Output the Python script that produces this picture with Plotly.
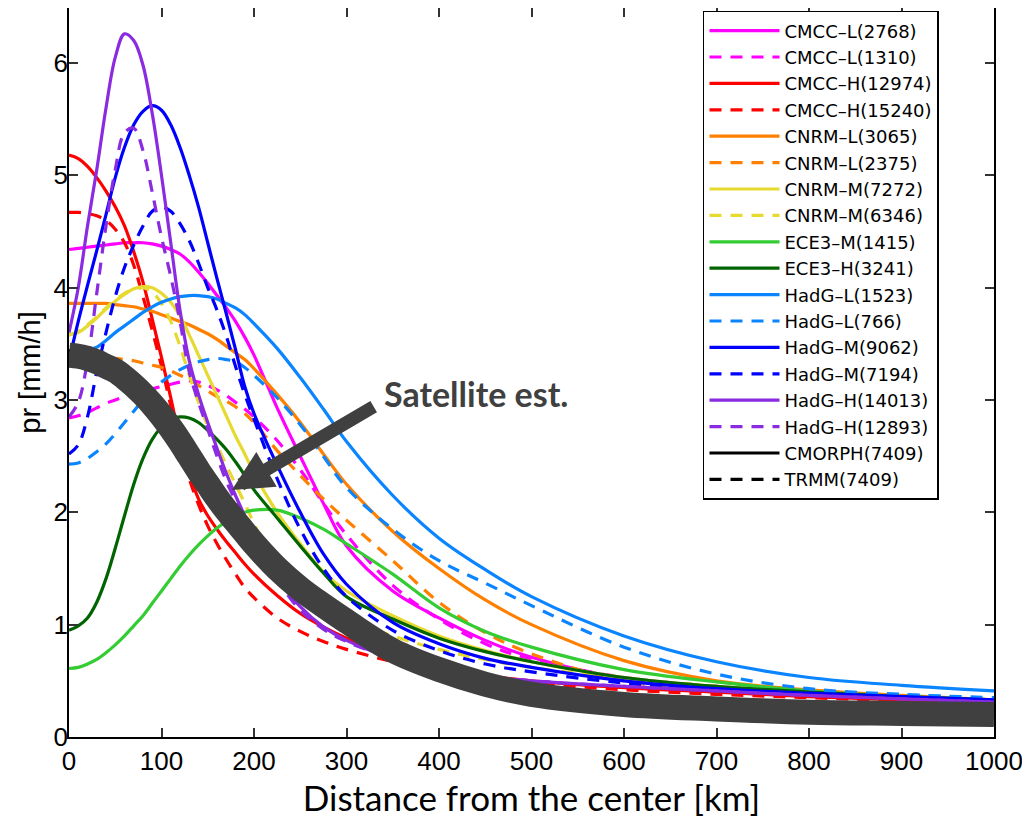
import plotly.graph_objects as go

# Distance from the storm centre [km]
DIST = [0, 10, 20, 30, 40, 50, 60, 70, 80, 90, 100, 110, 120, 130, 140, 150, 160, 170, 180, 190, 200,
        225, 250, 275, 300, 350, 400, 450, 500, 600, 700, 800, 900, 1000]

# Precipitation profiles [mm/h]
CMCC_L_2768 = [4.34, 4.35, 4.36, 4.37, 4.38, 4.39, 4.40, 4.40, 4.40, 4.39, 4.37, 4.34, 4.30, 4.23, 4.14,
               4.04, 3.93, 3.82, 3.70, 3.56, 3.40, 2.93, 2.50, 2.08, 1.70, 1.30, 1.06, 0.86, 0.71,
               0.52, 0.44, 0.39, 0.35, 0.32]
CMCC_L_1310 = [2.84, 2.86, 2.89, 2.93, 2.97, 3.00, 3.03, 3.06, 3.08, 3.10, 3.12, 3.14, 3.16, 3.17, 3.16,
               3.13, 3.09, 3.04, 2.98, 2.92, 2.85, 2.64, 2.38, 2.08, 1.80, 1.35, 1.05, 0.83, 0.69,
               0.53, 0.45, 0.40, 0.36, 0.33]
CMCC_H_12974 = [5.18, 5.15, 5.08, 4.98, 4.86, 4.72, 4.55, 4.32, 4.05, 3.72, 3.38, 3.02, 2.65, 2.35, 2.12,
                1.97, 1.85, 1.74, 1.64, 1.54, 1.45, 1.26, 1.10, 0.98, 0.88, 0.72, 0.62, 0.55, 0.50,
                0.44, 0.40, 0.36, 0.33, 0.30]
CMCC_H_15240 = [4.67, 4.67, 4.66, 4.64, 4.60, 4.52, 4.40, 4.20, 3.92, 3.62, 3.30, 2.95, 2.60, 2.30, 2.07,
                1.88, 1.72, 1.58, 1.45, 1.33, 1.24, 1.06, 0.94, 0.85, 0.78, 0.67, 0.58, 0.52, 0.48,
                0.42, 0.38, 0.35, 0.32, 0.30]
CNRM_L_3065 = [3.86, 3.86, 3.86, 3.86, 3.86, 3.85, 3.84, 3.83, 3.81, 3.79, 3.76, 3.73, 3.70, 3.67, 3.63,
               3.59, 3.54, 3.48, 3.42, 3.36, 3.28, 3.05, 2.80, 2.52, 2.25, 1.83, 1.50, 1.22, 1.00,
               0.68, 0.50, 0.42, 0.37, 0.33]
CNRM_L_2375 = [3.40, 3.39, 3.38, 3.38, 3.37, 3.37, 3.36, 3.35, 3.33, 3.31, 3.29, 3.26, 3.22, 3.18, 3.13,
               3.08, 3.03, 2.99, 2.94, 2.88, 2.80, 2.55, 2.33, 2.12, 1.93, 1.57, 1.20, 0.93, 0.74,
               0.50, 0.42, 0.38, 0.35, 0.32]
CNRM_M_7272 = [3.58, 3.60, 3.66, 3.73, 3.81, 3.88, 3.94, 3.99, 4.01, 4.00, 3.95, 3.87, 3.75, 3.58, 3.40,
               3.22, 3.04, 2.86, 2.68, 2.52, 2.35, 2.00, 1.72, 1.47, 1.30, 1.08, 0.90, 0.77, 0.67,
               0.53, 0.45, 0.40, 0.36, 0.33]
CNRM_M_6346 = [3.58, 3.61, 3.67, 3.74, 3.82, 3.89, 3.95, 3.99, 4.00, 3.96, 3.86, 3.70, 3.48, 3.22, 2.98,
               2.77, 2.60, 2.42, 2.25, 2.08, 1.90, 1.48, 1.27, 1.14, 1.05, 0.90, 0.78, 0.69, 0.62,
               0.52, 0.45, 0.40, 0.36, 0.33]
ECE3_M_1415 = [0.61, 0.62, 0.65, 0.69, 0.75, 0.82, 0.90, 0.99, 1.08, 1.19, 1.30, 1.41, 1.52, 1.62, 1.71,
               1.79, 1.86, 1.92, 1.96, 2.00, 2.02, 2.02, 1.95, 1.85, 1.72, 1.45, 1.15, 0.94, 0.80,
               0.60, 0.49, 0.41, 0.36, 0.33]
ECE3_H_3241 = [0.95, 0.99, 1.06, 1.20, 1.41, 1.68, 1.97, 2.25, 2.48, 2.65, 2.76, 2.83, 2.85, 2.84, 2.80,
               2.73, 2.65, 2.56, 2.45, 2.33, 2.20, 1.95, 1.70, 1.46, 1.25, 1.05, 0.88, 0.76, 0.67,
               0.53, 0.45, 0.40, 0.36, 0.33]
HADG_L_1523 = [3.43, 3.44, 3.45, 3.47, 3.53, 3.60, 3.66, 3.72, 3.78, 3.83, 3.87, 3.90, 3.92, 3.93, 3.93,
               3.92, 3.90, 3.86, 3.82, 3.76, 3.68, 3.46, 3.20, 2.92, 2.63, 2.15, 1.77, 1.49, 1.25,
               0.90, 0.67, 0.53, 0.46, 0.41]
HADG_L_766 = [2.43, 2.44, 2.48, 2.54, 2.61, 2.70, 2.80, 2.90, 3.00, 3.08, 3.16, 3.22, 3.27, 3.31, 3.34,
              3.36, 3.37, 3.36, 3.34, 3.29, 3.22, 3.02, 2.78, 2.50, 2.22, 1.85, 1.57, 1.37, 1.17,
              0.80, 0.56, 0.43, 0.38, 0.35]
HADG_M_9062 = [3.35, 3.70, 4.02, 4.33, 4.65, 4.98, 5.25, 5.45, 5.57, 5.62, 5.58, 5.45, 5.25, 5.00, 4.72,
               4.40, 4.08, 3.77, 3.45, 3.12, 2.88, 2.42, 2.00, 1.63, 1.36, 1.02, 0.83, 0.70, 0.62,
               0.50, 0.43, 0.39, 0.36, 0.33]
HADG_M_7194 = [2.52, 2.60, 2.85, 3.25, 3.60, 3.92, 4.18, 4.38, 4.55, 4.68, 4.72, 4.68, 4.57, 4.42, 4.22,
               4.00, 3.80, 3.57, 3.30, 3.05, 2.83, 2.30, 1.85, 1.50, 1.25, 0.95, 0.77, 0.65, 0.58,
               0.48, 0.42, 0.38, 0.35, 0.32]
HADG_H_14013 = [3.60, 4.00, 4.55, 5.05, 5.60, 6.05, 6.26, 6.20, 5.98, 5.55, 5.00, 4.40, 3.80, 3.35, 3.05,
                2.80, 2.57, 2.35, 2.15, 1.97, 1.80, 1.42, 1.16, 0.98, 0.86, 0.70, 0.60, 0.54, 0.50,
                0.45, 0.41, 0.37, 0.34, 0.31]
HADG_H_12893 = [2.85, 2.98, 3.35, 3.95, 4.55, 5.05, 5.38, 5.42, 5.22, 4.85, 4.45, 4.10, 3.70, 3.25, 2.98,
                2.74, 2.50, 2.28, 2.10, 1.92, 1.75, 1.40, 1.13, 0.96, 0.85, 0.70, 0.60, 0.54, 0.50,
                0.45, 0.41, 0.37, 0.34, 0.31]
CMORPH_7409 = [3.44, 3.43, 3.41, 3.38, 3.34, 3.30, 3.24, 3.17, 3.09, 3.00, 2.90, 2.79, 2.67, 2.54, 2.41,
               2.29, 2.17, 2.06, 1.96, 1.86, 1.76, 1.53, 1.35, 1.20, 1.06, 0.79, 0.62, 0.49, 0.40,
               0.31, 0.27, 0.24, 0.23, 0.22]
TRMM_7409 = [3.36, 3.35, 3.33, 3.30, 3.26, 3.22, 3.16, 3.09, 3.01, 2.92, 2.82, 2.71, 2.59, 2.46, 2.33,
             2.21, 2.09, 1.98, 1.88, 1.78, 1.68, 1.47, 1.29, 1.14, 1.00, 0.75, 0.58, 0.45, 0.36,
             0.27, 0.23, 0.20, 0.19, 0.18]
SATELLITE_EST = [3.40, 3.39, 3.37, 3.34, 3.30, 3.26, 3.20, 3.13, 3.05, 2.96, 2.86, 2.75, 2.63, 2.50, 2.37,
                 2.25, 2.13, 2.02, 1.92, 1.82, 1.72, 1.50, 1.32, 1.17, 1.03, 0.77, 0.60, 0.47, 0.38,
                 0.29, 0.25, 0.22, 0.21, 0.20]

SERIES = [
    ("CMCC–L(2768)", CMCC_L_2768, "#FF00FF", "solid"),
    ("CMCC–L(1310)", CMCC_L_1310, "#FF00FF", "dash"),
    ("CMCC–H(12974)", CMCC_H_12974, "#FF0000", "solid"),
    ("CMCC–H(15240)", CMCC_H_15240, "#FF0000", "dash"),
    ("CNRM–L(3065)", CNRM_L_3065, "#FF8000", "solid"),
    ("CNRM–L(2375)", CNRM_L_2375, "#FF8000", "dash"),
    ("CNRM–M(7272)", CNRM_M_7272, "#E6DA30", "solid"),
    ("CNRM–M(6346)", CNRM_M_6346, "#E6DA30", "dash"),
    ("ECE3–M(1415)", ECE3_M_1415, "#33CC33", "solid"),
    ("ECE3–H(3241)", ECE3_H_3241, "#006400", "solid"),
    ("HadG–L(1523)", HADG_L_1523, "#0A85FF", "solid"),
    ("HadG–L(766)", HADG_L_766, "#0A85FF", "dash"),
    ("HadG–M(9062)", HADG_M_9062, "#0000FF", "solid"),
    ("HadG–M(7194)", HADG_M_7194, "#0000FF", "dash"),
    ("HadG–H(14013)", HADG_H_14013, "#8A2BE2", "solid"),
    ("HadG–H(12893)", HADG_H_12893, "#8A2BE2", "dash"),
    ("CMORPH(7409)", CMORPH_7409, "#000000", "solid"),
    ("TRMM(7409)", TRMM_7409, "#000000", "dash"),
]

fig = go.Figure()
for name, vals, color, style in SERIES:
    fig.add_trace(go.Scatter(
        x=DIST, y=vals, name=name, mode="lines",
        line=dict(color=color, width=3.2, shape="spline", smoothing=1.0,
                  dash="solid" if style == "solid" else "12px,9px"),
    ))

# thick "satellite estimate" band drawn on top of everything
fig.add_trace(go.Scatter(
    x=DIST, y=SATELLITE_EST, mode="lines", showlegend=False, hoverinfo="skip",
    line=dict(color="#404040", width=25, shape="spline", smoothing=1.0),
))

fig.add_annotation(
    x=176, y=2.2, xref="x", yref="y", ax=331, ay=2.95, axref="x", ayref="y",
    text="", showarrow=True, arrowhead=2, arrowsize=0.62, arrowwidth=13,
    arrowcolor="#404040",
)
fig.add_annotation(
    x=338, y=3.06, xref="x", yref="y", text="<b>Satellite est.</b>", showarrow=False,
    xanchor="left", yanchor="middle",
    font=dict(family="Lato", size=34, color="#404040"),
)

axis_common = dict(
    showline=True, linecolor="black", linewidth=1.5, mirror="ticks",
    ticks="inside", ticklen=9, tickwidth=1.5, tickcolor="#333333",
    showgrid=False, zeroline=False, automargin=False,
    tickfont=dict(family="Liberation Sans", size=26, color="black"),
)

# the page body adds an 8 px offset, so the figure is sized/margined to compensate
fig.update_layout(
    width=1022, height=817,
    margin=dict(l=61, r=36, t=0, b=88),
    paper_bgcolor="white", plot_bgcolor="white",
    xaxis=dict(range=[0, 1000], tickmode="array", tickvals=list(range(0, 1001, 100)),
               title=dict(text="Distance from the center [km]",
                          font=dict(family="Lato", size=35, color="black"), standoff=4),
               **axis_common),
    yaxis=dict(range=[0, 6.49], tickmode="array", tickvals=[0, 1, 2, 3, 4, 5, 6],
               ticklabelstandoff=-6,
               title=dict(text="pr [mm/h]",
                          font=dict(family="Liberation Sans", size=29, color="black"), standoff=4),
               **axis_common),
    legend=dict(x=0.6854, y=0.996, xanchor="left", yanchor="top",
                bgcolor="white", bordercolor="black", borderwidth=1.5,
                font=dict(family="DejaVu Sans", size=18, color="black"),
                itemwidth=70, tracegroupgap=0),
    showlegend=True,
)

fig.write_html("out.html")
